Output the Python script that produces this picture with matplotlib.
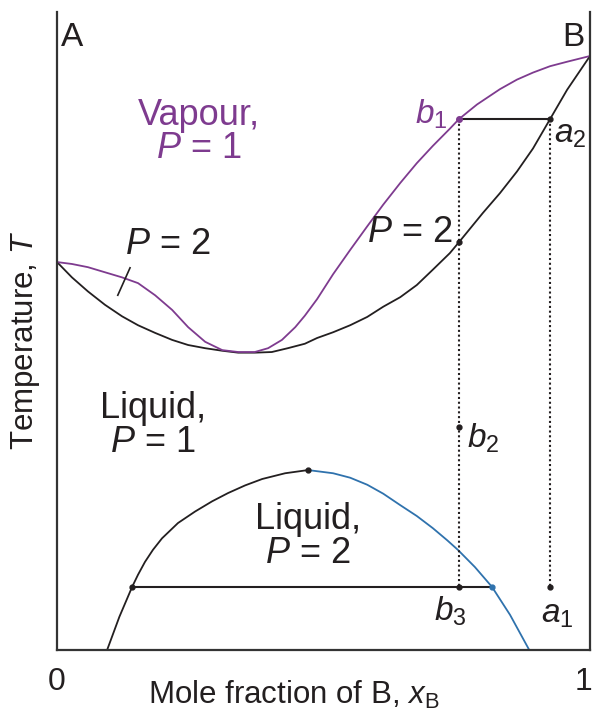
import matplotlib.pyplot as plt
import matplotlib.transforms as mtransforms

plt.rcParams['font.family'] = ['Liberation Sans', 'DejaVu Sans']
plt.rcParams['mathtext.fontset'] = 'custom'
plt.rcParams['mathtext.rm'] = 'Liberation Sans'
plt.rcParams['mathtext.it'] = 'Liberation Sans:italic'

PURPLE = '#7e3b8f'
BLUE = '#2f72ad'
INK = '#231f20'

# liquid (boiling point) curve
liq_x = [0.000, 0.028, 0.058, 0.090, 0.122, 0.152, 0.184, 0.216, 0.246, 0.278,
         0.310, 0.340, 0.371, 0.403, 0.433, 0.465, 0.488, 0.518, 0.550, 0.582,
         0.612, 0.644, 0.675, 0.705, 0.737, 0.754, 0.799, 0.831, 0.863, 0.893,
         0.925, 0.957, 1.000]
liq_T = [0.608, 0.584, 0.562, 0.541, 0.523, 0.509, 0.497, 0.486, 0.478, 0.473,
         0.469, 0.466, 0.466, 0.467, 0.473, 0.480, 0.489, 0.498, 0.509, 0.522,
         0.538, 0.553, 0.572, 0.596, 0.622, 0.639, 0.685, 0.716, 0.750, 0.786,
         0.832, 0.878, 0.931]

# vapour curve
vap_x = [0.000, 0.028, 0.058, 0.090, 0.122, 0.152, 0.184, 0.216, 0.246, 0.278,
         0.310, 0.340, 0.371, 0.396, 0.422, 0.447, 0.465, 0.488, 0.518, 0.550,
         0.582, 0.612, 0.644, 0.675, 0.705, 0.737, 0.754, 0.788, 0.831, 0.863,
         0.893, 0.925, 0.957, 1.000]
vap_T = [0.608, 0.605, 0.600, 0.592, 0.584, 0.575, 0.556, 0.533, 0.506, 0.483,
         0.470, 0.467, 0.467, 0.473, 0.486, 0.506, 0.524, 0.550, 0.589, 0.627,
         0.664, 0.698, 0.732, 0.763, 0.790, 0.817, 0.832, 0.855, 0.879, 0.894,
         0.905, 0.915, 0.922, 0.931]

# liquid-liquid boundary: black left branch, blue right branch
llA_x = [0.094, 0.117, 0.141, 0.152, 0.165, 0.180, 0.197, 0.227, 0.259, 0.291,
         0.321, 0.353, 0.385, 0.428, 0.471]
llA_T = [0.000, 0.052, 0.099, 0.118, 0.138, 0.157, 0.175, 0.199, 0.217, 0.233,
         0.246, 0.258, 0.268, 0.277, 0.282]
llB_x = [0.471, 0.518, 0.550, 0.582, 0.612, 0.644, 0.675, 0.705, 0.732, 0.752,
         0.784, 0.816, 0.850, 0.886]
llB_T = [0.282, 0.277, 0.270, 0.259, 0.245, 0.227, 0.210, 0.191, 0.172, 0.157,
         0.130, 0.099, 0.055, 0.000]

# tie lines and isopleths
x_b = 0.754
x_a = 0.925
T_top = 0.832
T_low = 0.099
T_b2 = 0.350
T_cross = 0.639
low_tie = [0.141, 0.816]

fig = plt.figure(figsize=(5.97, 7.21), dpi=100)
ax = fig.add_axes([0.0955, 0.0985, 0.8928, 0.8849])

ax.plot(liq_x, liq_T, color=INK, lw=1.3)
ax.plot(vap_x, vap_T, color=PURPLE, lw=1.3)
ax.plot(llA_x, llA_T, color=INK, lw=1.3)
ax.plot(llB_x, llB_T, color=BLUE, lw=1.3)

ax.plot([x_b, x_a], [T_top, T_top], color=INK, lw=1.5)
ax.plot(low_tie, [T_low, T_low], color=INK, lw=1.5)
ax.plot([x_b, x_b], [T_top, T_low], color=INK, lw=1.5, ls=(0, (1, 1.3)))
ax.plot([x_a, x_a], [T_top, T_low], color=INK, lw=1.5, ls=(0, (1, 1.3)))

# the little marker on the left two-phase lobe
ax.plot([0.114, 0.137], [0.556, 0.599], color=INK, lw=1.2)

ax.plot([x_b], [T_top], 'o', color=PURPLE, ms=4)
ax.plot([x_a, x_b, x_b, x_a, low_tie[0], llA_x[-1], x_b],
        [T_top, T_b2, T_low, T_low, T_low, llA_T[-1], T_cross],
        'o', color=INK, ms=3.5, ls='none')
ax.plot([low_tie[1]], [T_low], 'o', color=BLUE, ms=3.5)

fs = 26
ax.text(0.008, 0.985, 'A', fontsize=24, color=INK, ha='left', va='top')
ax.text(0.990, 0.985, 'B', fontsize=24, color=INK, ha='right', va='top')
ax.text(0.266, 0.812, 'Vapour,\n$P$ = 1', fontsize=fs, color=PURPLE,
        ha='center', va='center', linespacing=0.95)
ax.text(0.208, 0.636, '$P$ = 2', fontsize=fs, color=INK, ha='center', va='center')
ax.text(0.662, 0.655, '$P$ = 2', fontsize=fs, color=INK, ha='center', va='center')
ax.text(0.180, 0.352, 'Liquid,\n$P$ = 1', fontsize=fs, color=INK,
        ha='center', va='center', linespacing=0.95)
ax.text(0.471, 0.178, 'Liquid,\n$P$ = 2', fontsize=fs, color=INK,
        ha='center', va='center', linespacing=0.95)

fl = 24
ax.text(0.733, 0.840, '$b_1$', fontsize=fl, color=PURPLE, ha='right', va='center')
ax.text(0.932, 0.808, '$a_2$', fontsize=fl, color=INK, ha='left', va='center')
ax.text(0.769, 0.332, '$b_2$', fontsize=fl, color=INK, ha='left', va='center')
ax.text(0.737, 0.060, '$b_3$', fontsize=fl, color=INK, ha='center', va='center')
ax.text(0.938, 0.055, '$a_1$', fontsize=fl, color=INK, ha='center', va='center')

ax.set_xlim(0, 1)
ax.set_ylim(0, 1)
ax.spines['top'].set_visible(False)
for s in ['left', 'right', 'bottom']:
    ax.spines[s].set_linewidth(1.6)
    ax.spines[s].set_color('#333333')
ax.set_xticks([0, 1])
ax.set_xticklabels(['0', '1'])
ax.set_yticks([])
ax.tick_params(axis='x', length=0, pad=12, labelsize=23, colors=INK)
# keep the "1" inside the canvas
shift = mtransforms.ScaledTranslation(-5 / 72, 0, fig.dpi_scale_trans)
last = ax.get_xticklabels()[-1]
last.set_transform(last.get_transform() + shift)

ax.set_xlabel(r'Mole fraction of B, $x_\mathrm{B}$', fontsize=22.5, color=INK)
ax.xaxis.set_label_coords(0.445, -0.045)
ax.set_ylabel(r'Temperature, $T$', fontsize=22.5, color=INK)
ax.yaxis.set_label_coords(-0.028, 0.486)

fig.savefig('out.png', dpi=100)
